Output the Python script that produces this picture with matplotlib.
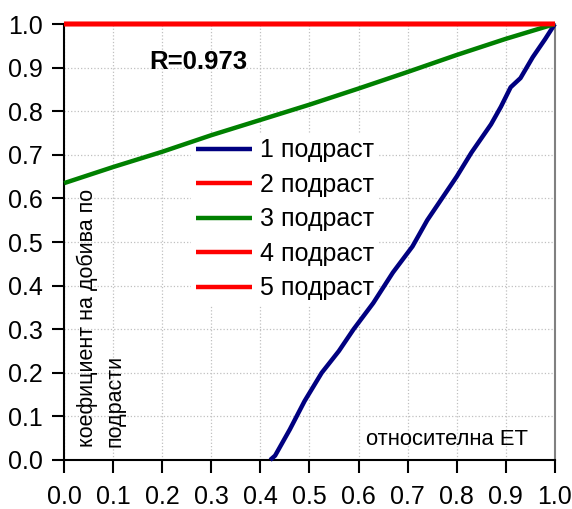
import matplotlib

matplotlib.use("Agg")
import matplotlib.pyplot as plt

plt.rcParams["font.family"] = ["Liberation Sans", "DejaVu Sans"]

# relative ET (x) and yield coefficient (y) per undergrowth class
x_sub1 = [0.42, 0.43, 0.46, 0.49, 0.525, 0.56, 0.59, 0.63, 0.67, 0.71, 0.74,
          0.77, 0.80, 0.83, 0.87, 0.89, 0.91, 0.93, 0.955, 0.98, 1.0]
y_sub1 = [0.0, 0.01, 0.07, 0.135, 0.20, 0.25, 0.30, 0.36, 0.43, 0.49, 0.55,
          0.60, 0.65, 0.705, 0.77, 0.81, 0.855, 0.876, 0.924, 0.965, 1.0]
x_sub3 = [0.0, 0.1, 0.2, 0.3, 0.4, 0.5, 0.6, 0.7, 0.8, 0.9, 1.0]
y_sub3 = [0.635, 0.672, 0.707, 0.745, 0.78, 0.815, 0.852, 0.89, 0.929, 0.966, 1.0]
x_flat = [0.0, 1.0]
y_flat = [1.0, 1.0]

series = [
    ("1 подраст", x_sub1, y_sub1, "#000080"),
    ("2 подраст", x_flat, y_flat, "#ff0000"),
    ("3 подраст", x_sub3, y_sub3, "#008000"),
    ("4 подраст", x_flat, y_flat, "#ff0000"),
    ("5 подраст", x_flat, y_flat, "#ff0000"),
]
r_value = 0.973
tick_values = [i / 10 for i in range(11)]

fig = plt.figure(figsize=(5.72, 5.09), dpi=100)
ax = fig.add_axes([0.112, 0.0963, 0.858, 0.8565])
ax.set_axisbelow(True)

for label, xs, ys, color in series:
    ax.plot(xs, ys, color=color, lw=3.2, label=label, clip_on=False,
            solid_capstyle="butt", zorder=3)

ax.set_xlim(0, 1)
ax.set_ylim(0, 1)
ax.set_xticks(tick_values)
ax.set_yticks(tick_values)
ax.set_xticklabels([f"{v:.1f}" for v in tick_values])
ax.set_yticklabels([f"{v:.1f}" for v in tick_values])
ax.tick_params(axis="both", direction="out", length=9, width=1.5, labelsize=18)
ax.tick_params(axis="x", pad=9)
ax.tick_params(axis="y", pad=6)
ax.grid(True, color="#c0c0c0", linestyle=":", linewidth=0.9)

for side in ("left", "bottom"):
    ax.spines[side].set_linewidth(1.5)
    ax.spines[side].set_color("black")
ax.spines["right"].set_color("#808080")
ax.spines["right"].set_linewidth(1.5)
ax.spines["top"].set_visible(False)

ax.text(0.273, 0.913, f"R={r_value:.3f}", transform=ax.transAxes,
        fontsize=18.5, fontweight="bold", ha="center", va="center")
ax.text(0.025, 0.03, "коефициент на добива по\nподрасти", transform=ax.transAxes,
        rotation=90, fontsize=15.5, ha="left", va="bottom", linespacing=1.45)
ax.text(0.945, 0.022, "относителна ЕТ", transform=ax.transAxes,
        fontsize=15.8, ha="right", va="bottom")

# white legend box hides the grid but stays under the curves
leg = ax.legend(loc="upper left", bbox_to_anchor=(0.234, 0.778), fontsize=18,
                frameon=True, facecolor="white", edgecolor="none", framealpha=1,
                fancybox=False, handlelength=2.24, handletextpad=0.3,
                labelspacing=0.42, borderpad=0.2)
leg.set_zorder(2.5)

fig.savefig("out.png", dpi=100)
